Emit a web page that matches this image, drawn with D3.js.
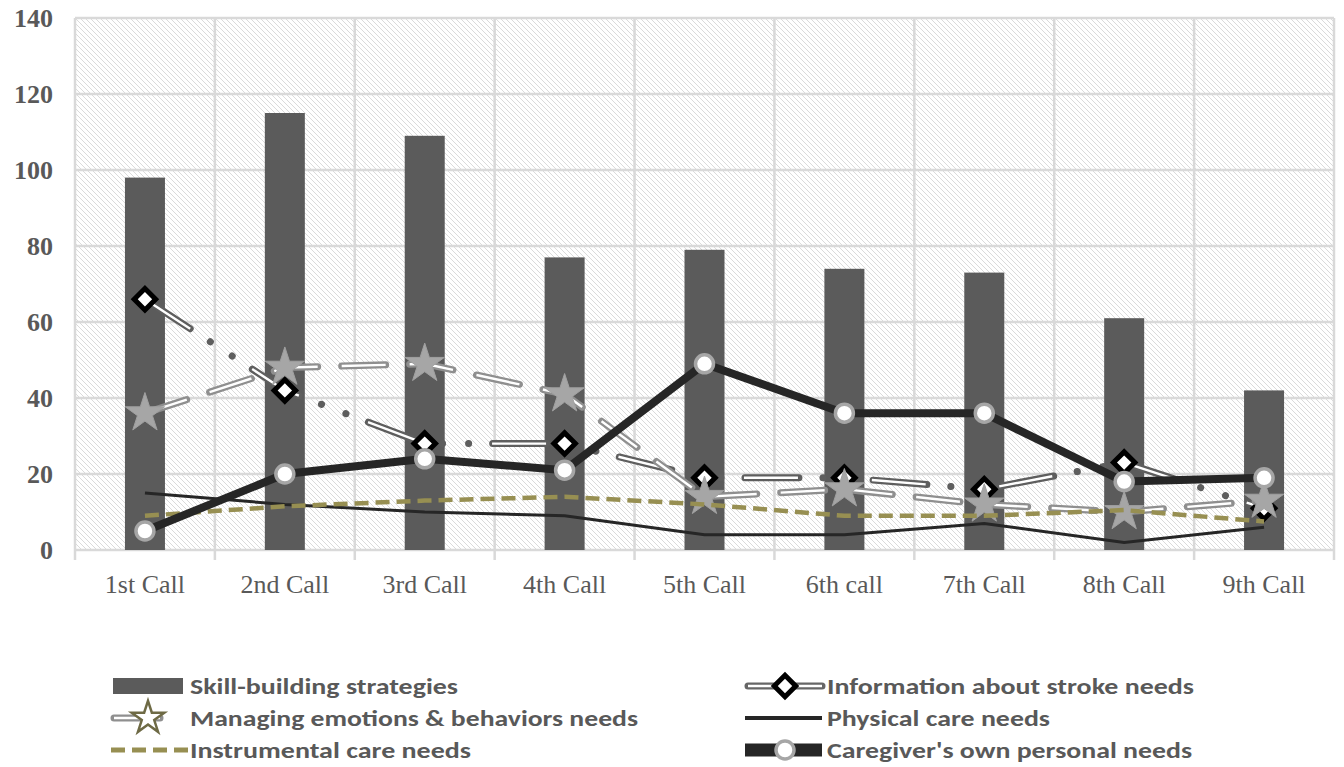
<!DOCTYPE html>
<html>
<head>
<meta charset="utf-8">
<script src="https://cdn.jsdelivr.net/npm/d3@7"></script>
<style>
  body { margin: 0; background: #fff; }
  svg { display: block; }
</style>
</head>
<body>
<div id="chart"></div>
<script>
// Define SVG area dimensions
var svgWidth = 1344;
var svgHeight = 767;

// categories and series values
var calls = ['1st Call', '2nd Call', '3rd Call', '4th Call', '5th Call', '6th call', '7th Call', '8th Call', '9th Call'];
var skillBuilding = [98, 115, 109, 77, 79, 74, 73, 61, 42];
var strokeInfo = [66, 42, 28, 28, 19, 19, 16, 23, 11];
var emotions = [36, 48, 49, 41, 14, 16, 12, 10, 13];
var physicalCare = [15, 12, 10, 9, 4, 4, 7, 2, 6];
var instrumental = [9, 11.5, 13, 14, 12, 9, 9, 10.5, 7.5];
var ownNeeds = [5, 20, 24, 21, 49, 36, 36, 18, 19];
var yTicks = [0, 20, 40, 60, 80, 100, 120, 140];

var legendLabels = ['Skill-building strategies', 'Information about stroke needs',
  'Managing emotions & behaviors needs', 'Physical care needs',
  'Instrumental care needs', "Caregiver's own personal needs"];

// chart area
var margin = { top: 18, right: 10, bottom: 217, left: 75 };
var chartWidth = svgWidth - margin.left - margin.right;
var chartHeight = svgHeight - margin.top - margin.bottom;

var svg = d3.select('#chart')
  .append('svg')
  .attr('width', svgWidth)
  .attr('height', svgHeight);

// hatch pattern for the plot background
var defs = svg.append('defs');
var pat = defs.append('pattern')
  .attr('id', 'hatch')
  .attr('patternUnits', 'userSpaceOnUse')
  .attr('width', 5)
  .attr('height', 5);
pat.append('rect').attr('width', 5).attr('height', 5).attr('fill', '#fff');
pat.append('path')
  .attr('d', 'M-1,-1 L6,6 M-1,4 L1,6 M4,-1 L6,1')
  .attr('stroke', '#dadada')
  .attr('stroke-width', 1);

var chartGroup = svg.append('g')
  .attr('transform', `translate(${margin.left}, ${margin.top})`);

var xScale = d3.scaleBand().domain(calls).range([0, chartWidth]).padding(0);
var yScale = d3.scaleLinear().domain([0, 140]).range([chartHeight, 0]);
var cx = (d, i) => xScale(calls[i]) + xScale.bandwidth() / 2;

chartGroup.append('rect')
  .attr('width', chartWidth)
  .attr('height', chartHeight)
  .attr('fill', 'url(#hatch)');

// gridlines
chartGroup.append('g')
  .selectAll('line')
  .data(yTicks)
  .enter()
  .append('line')
  .attr('x1', 0)
  .attr('x2', chartWidth)
  .attr('y1', d => yScale(d))
  .attr('y2', d => yScale(d))
  .attr('stroke', '#d9d9d9')
  .attr('stroke-width', 2.5);

var bounds = calls.map(c => xScale(c)).concat([chartWidth]);
chartGroup.append('g')
  .selectAll('line')
  .data(bounds)
  .enter()
  .append('line')
  .attr('x1', d => d)
  .attr('x2', d => d)
  .attr('y1', 0)
  .attr('y2', chartHeight + 10)
  .attr('stroke', '#d9d9d9')
  .attr('stroke-width', 2.5);

// y axis labels
var leftAxis = d3.axisLeft(yScale).tickValues(yTicks).tickSize(0).tickPadding(22);
var yAxis = chartGroup.append('g').call(leftAxis);
yAxis.select('.domain').remove();
yAxis.selectAll('text')
  .attr('font-family', '"Liberation Serif", "Times New Roman", serif')
  .attr('font-weight', 'bold')
  .attr('font-size', '26px')
  .attr('fill', '#595959');

// x axis labels
var bottomAxis = d3.axisBottom(xScale).tickSize(0).tickPadding(25);
var xAxis = chartGroup.append('g')
  .attr('transform', `translate(0, ${chartHeight})`)
  .call(bottomAxis);
xAxis.select('.domain').remove();
xAxis.selectAll('text')
  .attr('font-family', '"Liberation Serif", "Times New Roman", serif')
  .attr('font-size', '26px')
  .attr('fill', '#595959');

// bars
var barW = 40;
chartGroup.append('g')
  .selectAll('rect')
  .data(skillBuilding)
  .enter()
  .append('rect')
  .attr('x', (d, i) => cx(d, i) - barW / 2)
  .attr('y', d => yScale(d))
  .attr('width', barW)
  .attr('height', d => chartHeight - yScale(d))
  .attr('fill', '#5b5b5b');

var line = d3.line().x((d, i) => cx(d, i)).y(d => yScale(d));

// double (outlined) dashed line helper
function doubleLine(data, outer, dashOuter, dashInner) {
  chartGroup.append('path')
    .attr('d', line(data))
    .attr('fill', 'none')
    .attr('stroke', outer)
    .attr('stroke-width', 7)
    .attr('stroke-linecap', 'round')
    .attr('stroke-dasharray', dashOuter);
  chartGroup.append('path')
    .attr('d', line(data))
    .attr('fill', 'none')
    .attr('stroke', '#fff')
    .attr('stroke-width', 2.4)
    .attr('stroke-linecap', 'butt')
    .attr('stroke-dasharray', dashInner);
}

function diamond(g, x, y) {
  g.append('path')
    .attr('d', d3.symbol().type(d3.symbolSquare).size(230)())
    .attr('transform', `translate(${x},${y}) rotate(45)`)
    .attr('fill', '#fff')
    .attr('stroke', '#000')
    .attr('stroke-width', 5);
}

function star(g, x, y, size) {
  g.append('path')
    .attr('d', d3.symbol().type(d3.symbolStar).size(size)())
    .attr('transform', `translate(${x},${y})`)
    .attr('fill', '#a6a6a6')
    .attr('stroke', '#a0a0a0')
    .attr('stroke-width', 1);
}

function ring(g, x, y) {
  g.append('circle')
    .attr('cx', x)
    .attr('cy', y)
    .attr('r', 9)
    .attr('fill', '#fff')
    .attr('stroke', '#a6a6a6')
    .attr('stroke-width', 3.5);
}

// Information about stroke needs: long dash dot dot
doubleLine(strokeInfo, '#5e5e5e', '54 24 0.1 26 0.1 24', '54 24 0 26 0 24');
var gStroke = chartGroup.append('g');
strokeInfo.forEach((d, i) => diamond(gStroke, cx(d, i), yScale(d)));

// Managing emotions: long dash
doubleLine(emotions, '#8f8f8f', '44 24', '44 24');
var gStar = chartGroup.append('g');
emotions.forEach((d, i) => star(gStar, cx(d, i), yScale(d), 480));

// Physical care
chartGroup.append('path')
  .attr('d', line(physicalCare))
  .attr('fill', 'none')
  .attr('stroke', '#262626')
  .attr('stroke-width', 3);

// Instrumental care
chartGroup.append('path')
  .attr('d', line(instrumental))
  .attr('fill', 'none')
  .attr('stroke', '#978f52')
  .attr('stroke-width', 4.5)
  .attr('stroke-dasharray', '14 7');

// Caregiver's own personal needs
chartGroup.append('path')
  .attr('d', line(ownNeeds))
  .attr('fill', 'none')
  .attr('stroke', '#262626')
  .attr('stroke-width', 8)
  .attr('stroke-linejoin', 'round');
var gOwn = chartGroup.append('g');
ownNeeds.forEach((d, i) => ring(gOwn, cx(d, i), yScale(d)));

// legend
var legend = svg.append('g');
var legendFont = 'Calibri, Carlito, "Open Sans", sans-serif';
var textWidths = [268, 367, 448, 223, 281, 365];
var cols = [[113, 190], [745, 827]];
var rows = [686, 718, 750];

legendLabels.forEach((lab, k) => {
  var col = cols[k % 2];
  var ry = rows[Math.floor(k / 2)];
  legend.append('text')
    .attr('x', col[1])
    .attr('y', ry)
    .attr('dy', '0.35em')
    .attr('font-family', legendFont)
    .attr('font-size', '22px')
    .attr('font-weight', 600)
    .attr('fill', '#595959')
    .attr('textLength', textWidths[k])
    .attr('lengthAdjust', 'spacingAndGlyphs')
    .text(lab);
});

// legend keys
legend.append('rect')
  .attr('x', 113).attr('y', rows[0] - 8).attr('width', 70).attr('height', 16)
  .attr('fill', '#5b5b5b');

legend.append('line')
  .attr('x1', 748).attr('x2', 822).attr('y1', rows[0]).attr('y2', rows[0])
  .attr('stroke', '#666666').attr('stroke-width', 7).attr('stroke-linecap', 'round');
legend.append('line')
  .attr('x1', 748).attr('x2', 822).attr('y1', rows[0]).attr('y2', rows[0])
  .attr('stroke', '#fff').attr('stroke-width', 2.4);
diamond(legend, 785, rows[0]);

legend.append('line')
  .attr('x1', 114).attr('x2', 160).attr('y1', rows[1]).attr('y2', rows[1])
  .attr('stroke', '#8f8f8f').attr('stroke-width', 7).attr('stroke-linecap', 'round');
legend.append('line')
  .attr('x1', 114).attr('x2', 160).attr('y1', rows[1]).attr('y2', rows[1])
  .attr('stroke', '#fff').attr('stroke-width', 2.4);
legend.append('path')
  .attr('d', d3.symbol().type(d3.symbolStar).size(330)())
  .attr('transform', `translate(148,${rows[1]})`)
  .attr('fill', '#fff')
  .attr('stroke', '#6e6a45')
  .attr('stroke-width', 2.5);

legend.append('line')
  .attr('x1', 745).attr('x2', 822).attr('y1', rows[1]).attr('y2', rows[1])
  .attr('stroke', '#262626').attr('stroke-width', 4);

legend.append('line')
  .attr('x1', 111).attr('x2', 188).attr('y1', rows[2]).attr('y2', rows[2])
  .attr('stroke', '#978f52').attr('stroke-width', 5).attr('stroke-dasharray', '14 7');

legend.append('line')
  .attr('x1', 745).attr('x2', 822).attr('y1', rows[2]).attr('y2', rows[2])
  .attr('stroke', '#262626').attr('stroke-width', 13);
ring(legend, 785, rows[2]);
</script>
</body>
</html>
